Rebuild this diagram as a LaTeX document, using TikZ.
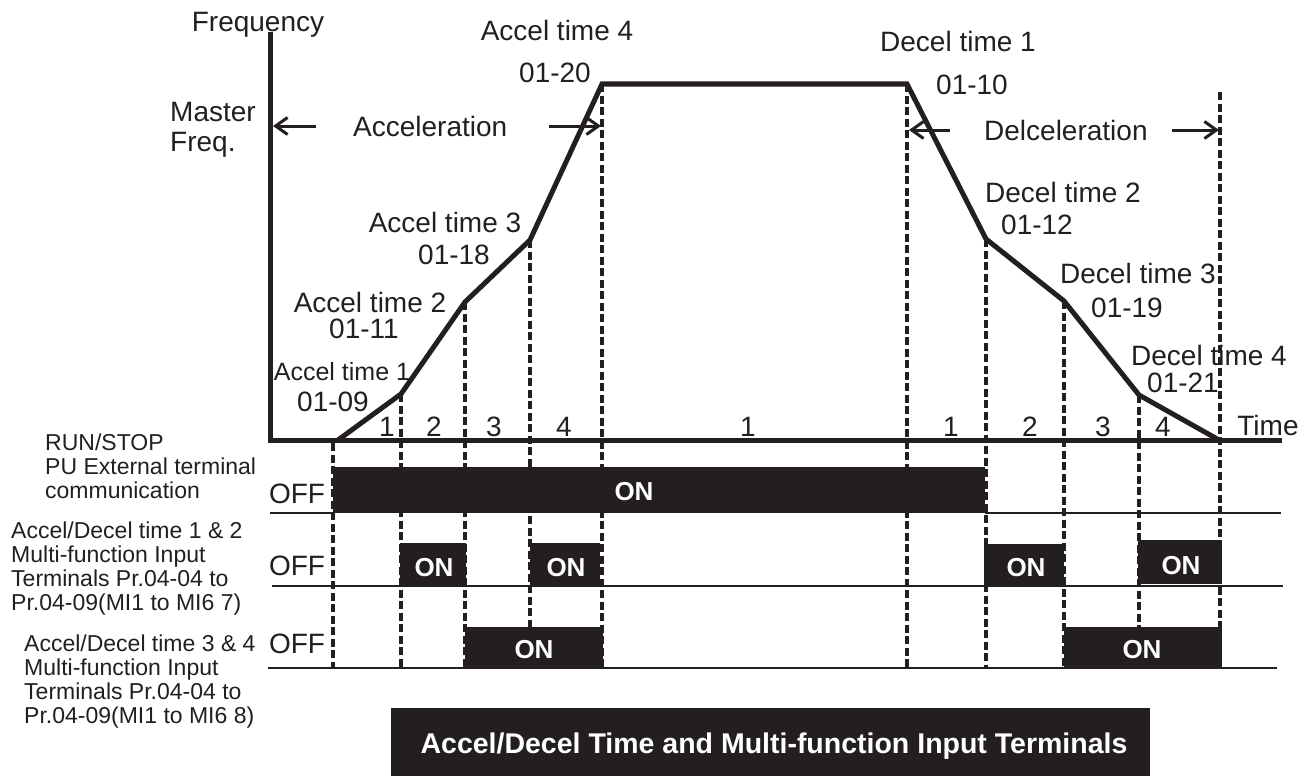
\documentclass[tikz,border=0pt]{standalone}
\usepackage{fontspec}
\setmainfont{Liberation Sans}
\usepackage{tikz}
\usetikzlibrary{arrows.meta}
\definecolor{ink}{HTML}{231F20}
\tikzset{
  every picture/.style={line join=miter, line cap=butt, >={Straight Barb[length=12pt,width=17pt]}},
  axisline/.style={ink, line width=5pt},
  curve/.style={ink, line width=5pt},
  guide/.style={ink, line width=3.2pt, dash pattern=on 8pt off 3.5pt},
  level/.style={ink, line width=2.4pt},
  span/.style={ink, line width=3pt, ->},
  lbl/.style={inner sep=0pt, text height=20pt, text depth=0pt, text=ink, font=\fontsize{28}{30}\selectfont},
  onlbl/.style={inner sep=0pt, text height=18.6pt, text depth=0pt, text=white, font=\fontsize{26}{28}\selectfont\bfseries},
  sidelbl/.style={inner sep=0pt, anchor=north west, align=left, text=ink, font=\fontsize{23}{24}\selectfont},
}

\begin{document}
\begin{tikzpicture}[x=1pt,y=-1pt]
\useasboundingbox (0,0) rectangle (1312,776);
% corners of the speed profile
\coordinate (p0) at (338,440);
\coordinate (p1) at (401,394);
\coordinate (p2) at (465,302);
\coordinate (p3) at (530,240);
\coordinate (p4) at (602,84);
\coordinate (p5) at (907,84);
\coordinate (p6) at (986,239);
\coordinate (p7) at (1064,301);
\coordinate (p8) at (1139,395);
\coordinate (p9) at (1219,440);
\coordinate (g0) at (333,443);
\coordinate (g9) at (1220,92);
\coordinate (b3) at (0,668);
\coordinate (origin) at (270,440);
\coordinate (ftop) at (270,32);
\coordinate (tend) at (1282,440);
\coordinate (accL) at (273,126);
\coordinate (accR) at (601,126);
\coordinate (decL) at (909,130);
\coordinate (decR) at (1219,130);

\foreach \i in {1,...,8} \draw[guide] (p\i) -- (p\i |- b3);
\draw[guide] (g0) -- (g0 |- b3);
\draw[guide] (g9) -- (g9 |- b3);

% RUN/STOP row
\draw[level] (270,513) -- (333,513);
\draw[level] (985,513) -- (1281,513);
\fill[ink] (333,467) rectangle (985,513);
% time 1 & 2 row
\draw[level] (272,586) -- (1283,586);
\fill[ink] (400,543) rectangle (466,586);
\fill[ink] (530,543) rectangle (600,586);
\fill[ink] (984,544) rectangle (1064,587);
\fill[ink] (1138,540) rectangle (1222,584);
% time 3 & 4 row
\draw[level] (268,668) -- (1277,668);
\fill[ink] (465,627) rectangle (603,668);
\fill[ink] (1064,627) rectangle (1222,668);

\draw[curve] (p0) -- (p1) -- (p2) -- (p3) -- (p4) -- (p5) -- (p6) -- (p7) -- (p8) -- (p9);
\draw[axisline] (ftop) -- (origin) -- (tend);

\node[lbl] (freq) at (258,22) {Frequency};
\node[sidelbl, font=\fontsize{28}{30}\selectfont] (master) at (170,102) {Master\\Freq.};
\node[lbl, anchor=west] (acc) at (353,126) {Acceleration};
\node[lbl, anchor=west] (dec) at (984,130) {Delceleration};
\draw[span] ([xshift=-37pt]acc.west) -- (accL);
\draw[span] ([xshift=42pt]acc.east) -- (accR);
\draw[span] ([xshift=-34pt]dec.west) -- (decL);
\draw[span] ([xshift=24pt]dec.east) -- (decR);

\node[lbl] (a4) at (557,31) {Accel time 4};
\node[lbl] (a4p) at (555,72) {01-20};
\node[lbl] (a3) at (445,222) {Accel time 3};
\node[lbl] (a3p) at (454,254) {01-18};
\node[lbl] (a2) at (370,302) {Accel time 2};
\node[lbl] (a2p) at (364,328) {01-11};
\node[lbl, font=\fontsize{25}{27}\selectfont] (a1) at (342,370) {Accel time 1};
\node[lbl] (a1p) at (333,401) {01-09};
\node[lbl] (d1) at (958,42) {Decel time 1};
\node[lbl] (d1p) at (972,85) {01-10};
\node[lbl] (d2) at (1063,192) {Decel time 2};
\node[lbl] (d2p) at (1037,224) {01-12};
\node[lbl] (d3) at (1138,273) {Decel time 3};
\node[lbl] (d3p) at (1127,307) {01-19};
\node[lbl] (d4) at (1209,355) {Decel time 4};
\node[lbl] (d4p) at (1183,382) {01-21};
\node[lbl] (tlbl) at (1268,425) {Time};
\foreach \sx/\sn in {387/1,434/2,494/3,564/4,748/1,951/1,1030/2,1103/3,1163/4}
  \node[lbl] (seg\sx) at (\sx,426) {\sn};

\node[sidelbl] (runlbl) at (45,434) {RUN/STOP\\PU External terminal\\communication};
\node[sidelbl] (t12lbl) at (11,522) {Accel/Decel time 1 \& 2\\Multi-function Input\\Terminals Pr.04-04 to\\Pr.04-09(MI1 to MI6 7)};
\node[sidelbl] (t34lbl) at (24,635) {Accel/Decel time 3 \& 4\\Multi-function Input\\Terminals Pr.04-04 to\\Pr.04-09(MI1 to MI6 8)};
\node[lbl] (off1) at (297,493) {OFF};
\node[lbl] (off2) at (297,565) {OFF};
\node[lbl] (off3) at (297,643) {OFF};

\node[onlbl] (on1) at (634,491) {ON};
\node[onlbl] (on2a) at (434,567) {ON};
\node[onlbl] (on2b) at (566,567) {ON};
\node[onlbl] (on2c) at (1026,567) {ON};
\node[onlbl] (on2d) at (1181,565) {ON};
\node[onlbl] (on3a) at (534,649) {ON};
\node[onlbl] (on3b) at (1142,649) {ON};

\fill[ink] (391,708) rectangle (1150,776);
\node[onlbl, text height=20pt, font=\fontsize{28.5}{30}\selectfont\bfseries] (title) at (774,743) {Accel/Decel Time and Multi-function Input Terminals};
\end{tikzpicture}
\end{document}
